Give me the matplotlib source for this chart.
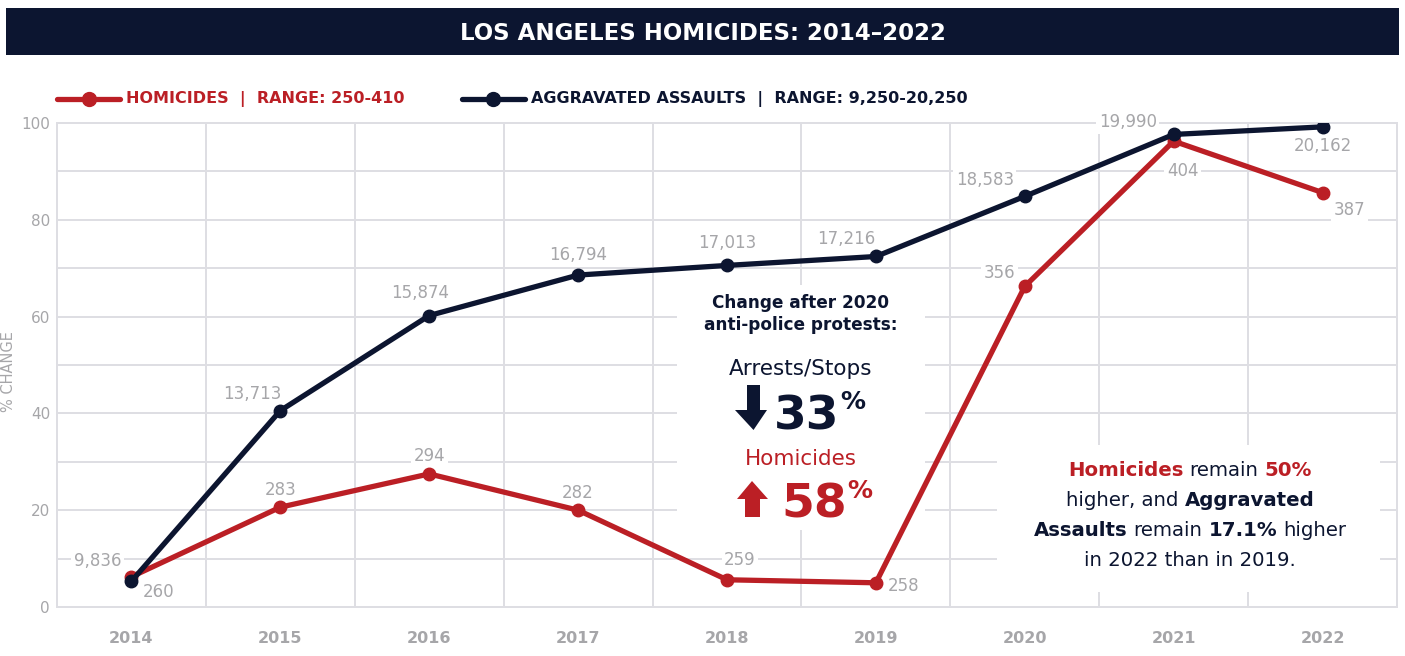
import matplotlib
matplotlib.use("Agg")
import matplotlib.pyplot as plt
from matplotlib.lines import Line2D
from matplotlib.patches import Rectangle, Polygon
from matplotlib.ticker import MultipleLocator, FixedLocator
import numpy as np

# ---------------- data ----------------
years = ["2014", "2015", "2016", "2017", "2018", "2019", "2020", "2021", "2022"]
homicides = [260, 283, 294, 282, 259, 258, 356, 404, 387]
assaults = [9836, 13713, 15874, 16794, 17013, 17216, 18583, 19990, 20162]
hom_range = (250, 410)
asl_range = (9250, 20250)

hom_pct = [(v - hom_range[0]) / (hom_range[1] - hom_range[0]) * 100 for v in homicides]
asl_pct = [(v - asl_range[0]) / (asl_range[1] - asl_range[0]) * 100 for v in assaults]

# label offsets (pixels) -- styling only
asl_off = [(-34, 20), (-28, 17), (-9, 23), (0, 20), (0, 22), (-30, 17), (-40, 16), (-46, 12), (0, -19)]
hom_off = [(27, -15), (0, 17), (0, 18), (0, 17), (13, 20), (28, -3), (-25, 13), (9, -30), (27, -17)]

NAVY = "#0c1530"
RED = "#bb1f25"
GRAY = "#a6a6a9"
GRID = "#dedee3"

plt.rcParams["font.family"] = ["DejaVu Sans"]

W, H = 1405, 656
fig = plt.figure(figsize=(W / 100, H / 100), dpi=100)


def P(x, y):
    return (x / W, 1 - y / H)


ax = fig.add_axes([57 / W, (H - 607) / H, 1340 / W, 484 / H])
x = np.arange(len(years))
ax.set_xlim(-0.5, len(years) - 0.5)
ax.set_ylim(0, 100)
ax.set_axisbelow(True)

ax.xaxis.set_major_locator(FixedLocator(x))
ax.set_xticklabels(years)
ax.xaxis.set_minor_locator(FixedLocator(np.arange(len(years) + 1) - 0.5))
ax.yaxis.set_major_locator(MultipleLocator(20))
ax.yaxis.set_minor_locator(MultipleLocator(10))
ax.grid(True, which="minor", axis="x", color=GRID, lw=1.4)
ax.grid(True, which="both", axis="y", color=GRID, lw=1.4)
ax.tick_params(which="both", length=0)
ax.tick_params(axis="x", pad=17.5, labelsize=11.5, labelcolor=GRAY)
ax.tick_params(axis="y", pad=5, labelsize=11, labelcolor=GRAY)
for lab in ax.get_xticklabels():
    lab.set_fontweight("bold")
for s in ax.spines.values():
    s.set_color(GRID)
    s.set_linewidth(1.4)

# white boxes behind annotations
ax.add_patch(Rectangle(P(677, 530), 248 / W, 245 / H, transform=fig.transFigure,
                       facecolor="white", edgecolor="none", zorder=1, clip_on=False))
ax.add_patch(Rectangle(P(997, 592), 383 / W, 147 / H, transform=fig.transFigure,
                       facecolor="white", edgecolor="none", zorder=1, clip_on=False))

# series
ax.plot(x, hom_pct, color=RED, lw=3.8, marker="o", ms=9, zorder=5, solid_capstyle="round")
ax.plot(x, asl_pct, color=NAVY, lw=3.8, marker="o", ms=9, zorder=6, solid_capstyle="round")

bb = dict(boxstyle="square,pad=0.15", facecolor="white", edgecolor="none")
for i in range(len(years)):
    ax.annotate(f"{assaults[i]:,}", (x[i], asl_pct[i]), xytext=asl_off[i], textcoords="offset pixels",
                ha="center", va="center", fontsize=12, color=GRAY, bbox=bb, zorder=3)
    ax.annotate(f"{homicides[i]:,}", (x[i], hom_pct[i]), xytext=hom_off[i], textcoords="offset pixels",
                ha="center", va="center", fontsize=12, color=GRAY, bbox=bb, zorder=3)

fig.text(*P(9, 372), "% CHANGE", rotation=90, ha="center", va="center", fontsize=10.5, color=GRAY)

# title bar
fig.patches.append(Rectangle(P(6, 55), 1393 / W, 47 / H, transform=fig.transFigure,
                             facecolor=NAVY, edgecolor="none", zorder=0))
fig.text(*P(703, 33), "LOS ANGELES HOMICIDES: 2014\u20132022", ha="center", va="center",
         fontsize=16.5, fontweight="bold", color="white")

# legend
for (x0, x1, col, txt) in [(57, 120, RED, "HOMICIDES  |  RANGE: 250-410"),
                           (462, 525, NAVY, "AGGRAVATED ASSAULTS  |  RANGE: 9,250-20,250")]:
    (a0, b0), (a1, _) = P(x0, 99), P(x1, 99)
    fig.add_artist(Line2D([a0, a1], [b0, b0], transform=fig.transFigure, color=col, lw=3.8,
                          solid_capstyle="round"))
    fig.add_artist(Line2D([(a0 + a1) / 2], [b0], transform=fig.transFigure, color=col, marker="o",
                          ms=10, lw=0))
    fig.text(*P(x1 + 6, 99), txt, ha="left", va="center", fontsize=11.5, fontweight="bold", color=col)

renderer = fig.canvas.get_renderer()


def width(t):
    return t.get_window_extent(renderer).width


def rich(y, xc, pieces, size):
    probe1 = fig.text(0, 0, "a a", fontsize=size)
    probe2 = fig.text(0, 0, "aa", fontsize=size)
    sp = width(probe1) - width(probe2)
    probe1.remove()
    probe2.remove()
    ts, ws = [], []
    for s, c, w in pieces:
        t = fig.text(0, 0, s, fontsize=size, color=c, fontweight=w, ha="left", va="center", zorder=5)
        ts.append(t)
        ws.append(width(t))
    total = sum(ws) + sp * (len(ws) - 1)
    cx = xc - total / 2
    for t, w in zip(ts, ws):
        t.set_position(P(cx, y))
        cx += w + sp


# centre annotation
fig.text(*P(801, 303), "Change after 2020", ha="center", va="center", fontsize=12.2,
         fontweight="bold", color=NAVY)
fig.text(*P(801, 325), "anti-police protests:", ha="center", va="center", fontsize=12.2,
         fontweight="bold", color=NAVY)
fig.text(*P(801, 369), "Arrests/Stops", ha="center", va="center", fontsize=15.5, color=NAVY)
fig.text(*P(801, 459), "Homicides", ha="center", va="center", fontsize=15.5, color=RED)

for (xl, yb, ytop, num, col) in [(774, 429, 390, "33", NAVY), (781, 518, 479, "58", RED)]:
    t = fig.text(*P(xl, yb), num, ha="left", va="baseline", fontsize=34, fontweight="bold", color=col)
    wv = width(t)
    fig.text(*P(xl + wv + 1, ytop), "%", ha="left", va="top", fontsize=18, fontweight="bold", color=col)

down = [(747, 385), (760, 385), (760, 410), (767, 410), (753.5, 430), (735, 410), (747, 410)]
up = [(752, 481), (768, 499), (760, 499), (760, 517), (745, 517), (745, 499), (737, 499)]
for pts, col in [(down, NAVY), (up, RED)]:
    fig.patches.append(Polygon([P(a, b) for a, b in pts], closed=True, transform=fig.transFigure,
                               facecolor=col, edgecolor="none"))

# bottom-right annotation
FS = 14.2
rich(471, 1190, [("Homicides", RED, "bold"), ("remain", NAVY, "normal"), ("50%", RED, "bold")], FS)
rich(501, 1190, [("higher, and", NAVY, "normal"), ("Aggravated", NAVY, "bold")], FS)
rich(531, 1190, [("Assaults", NAVY, "bold"), ("remain", NAVY, "normal"), ("17.1%", NAVY, "bold"),
                 ("higher", NAVY, "normal")], FS)
rich(560, 1190, [("in 2022 than in 2019.", NAVY, "normal")], FS)

fig.savefig("out.png", dpi=100, facecolor="white")
